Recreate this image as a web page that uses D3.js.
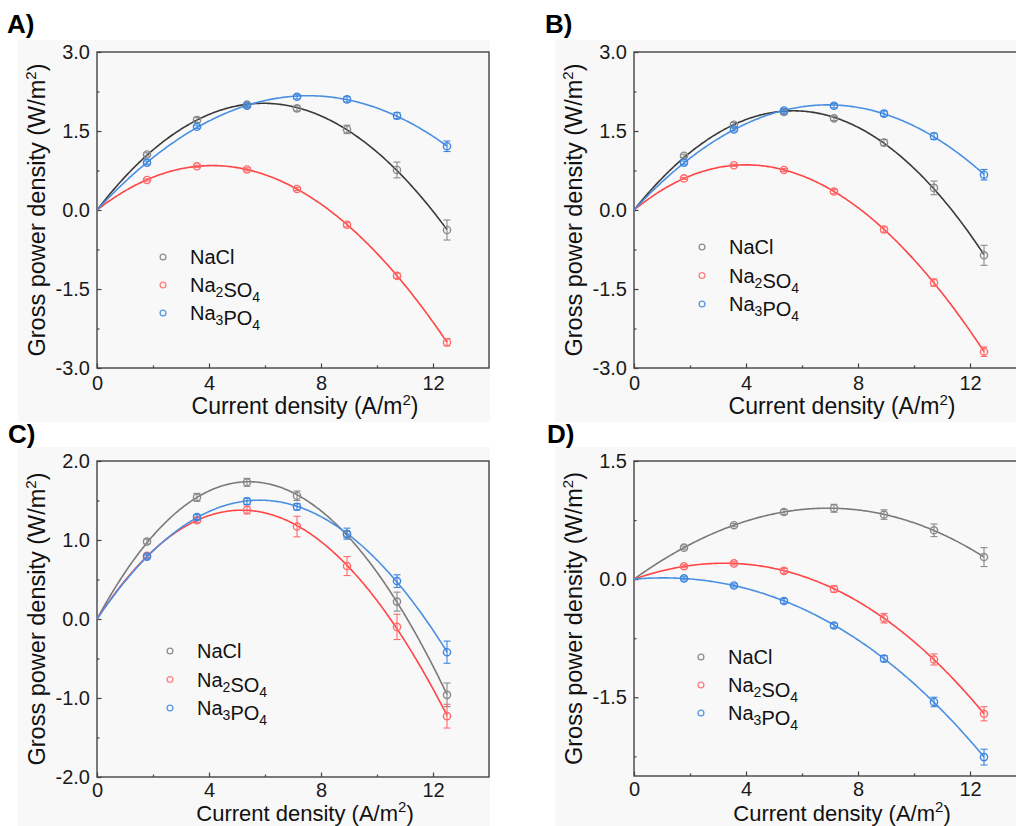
<!DOCTYPE html>
<html>
<head>
<meta charset="utf-8">
<script src="https://cdn.jsdelivr.net/npm/d3@7"></script>
<style>
  html, body { margin: 0; padding: 0; background: #ffffff; }
  svg { display: block; font-family: "Liberation Sans", Arial, sans-serif; }
</style>
</head>
<body>
<svg id="fig" width="1016" height="826"></svg>
<script>
// Current density at each measurement point (A/m2)
const currentDensity = [1.786, 3.571, 5.357, 7.143, 8.929, 10.714, 12.5];

// Gross power density (W/m2) and standard deviations, panel A
const naclA     = [1.055, 1.71, 2.00, 1.93, 1.53, 0.76, -0.38];
const naclAErr  = [0.03, 0.05, 0.03, 0.05, 0.08, 0.15, 0.19];
const na2so4A    = [0.57, 0.83, 0.77, 0.40, -0.28, -1.25, -2.51];
const na2so4AErr = [0.02, 0.02, 0.03, 0.03, 0.04, 0.05, 0.07];
const na3po4A    = [0.90, 1.58, 1.98, 2.15, 2.10, 1.79, 1.21];
const na3po4AErr = [0.03, 0.03, 0.03, 0.04, 0.05, 0.06, 0.10];

// Panel B
const naclB     = [1.03, 1.62, 1.86, 1.74, 1.28, 0.42, -0.86];
const naclBErr  = [0.03, 0.04, 0.04, 0.04, 0.06, 0.13, 0.19];
const na2so4B    = [0.60, 0.85, 0.76, 0.35, -0.37, -1.38, -2.69];
const na2so4BErr = [0.02, 0.02, 0.03, 0.04, 0.05, 0.07, 0.09];
const na3po4B    = [0.90, 1.53, 1.89, 1.98, 1.83, 1.40, 0.67];
const na3po4BErr = [0.03, 0.03, 0.03, 0.04, 0.05, 0.06, 0.10];

// Panel C
const naclC     = [0.98, 1.54, 1.73, 1.56, 1.07, 0.22, -0.96];
const naclCErr  = [0.03, 0.05, 0.05, 0.06, 0.04, 0.12, 0.15];
const na2so4C    = [0.80, 1.25, 1.38, 1.17, 0.67, -0.10, -1.23];
const na2so4CErr = [0.02, 0.03, 0.05, 0.13, 0.12, 0.16, 0.15];
const na3po4C    = [0.79, 1.29, 1.49, 1.42, 1.08, 0.48, -0.42];
const na3po4CErr = [0.02, 0.03, 0.04, 0.04, 0.07, 0.08, 0.14];

// Panel D
const naclD     = [0.40, 0.685, 0.853, 0.90, 0.82, 0.62, 0.28];
const naclDErr  = [0.02, 0.02, 0.03, 0.05, 0.06, 0.08, 0.12];
const na2so4D    = [0.164, 0.20, 0.105, -0.126, -0.496, -1.02, -1.71];
const na2so4DErr = [0.02, 0.02, 0.03, 0.04, 0.06, 0.07, 0.09];
const na3po4D    = [0.01, -0.08, -0.277, -0.588, -1.01, -1.56, -2.26];
const na3po4DErr = [0.02, 0.02, 0.03, 0.03, 0.04, 0.06, 0.10];

// Axis ticks
const xTicks = [0, 4, 8, 12];
const xMinorTicks = [2, 6, 10];
const yTicksAB = [-3, -1.5, 0, 1.5, 3];
const yMinorAB = [-2.25, -0.75, 0.75, 2.25];
const yTicksC = [-2, -1, 0, 1, 2];
const yMinorC = [-1.5, -0.5, 0.5, 1.5];
const yTicksD = [-1.5, 0, 1.5];
const yMinorD = [-2.25, -0.75, 0.75];

const saltNames = ["NaCl", "Na2SO4", "Na3PO4"];

const svg = d3.select("#fig");
const locale = d3.formatLocale({ decimal: ".", thousands: ",", grouping: [3], currency: ["", ""], minus: "-" });
const fmtY = locale.format(".1f");

// Least-squares cubic through the origin: P = a*i + b*i^2 + c*i^3
function fitCubicOrigin(xs, ys) {
  const S = (p) => d3.sum(xs, (x) => Math.pow(x, p));
  const T = (p) => d3.sum(xs, (x, i) => Math.pow(x, p) * ys[i]);
  const A = [[S(2), S(3), S(4)], [S(3), S(4), S(5)], [S(4), S(5), S(6)]];
  const b = [T(1), T(2), T(3)];
  const n = 3;
  const M = A.map((row, i) => row.concat([b[i]]));
  for (let k = 0; k < n; k++) {
    let p = k;
    for (let r = k + 1; r < n; r++) if (Math.abs(M[r][k]) > Math.abs(M[p][k])) p = r;
    [M[k], M[p]] = [M[p], M[k]];
    for (let r = k + 1; r < n; r++) {
      const f = M[r][k] / M[k][k];
      for (let c = k; c <= n; c++) M[r][c] -= f * M[k][c];
    }
  }
  const coef = [0, 0, 0];
  for (let r = n - 1; r >= 0; r--) {
    let s = M[r][n];
    for (let c = r + 1; c < n; c++) s -= M[r][c] * coef[c];
    coef[r] = s / M[r][r];
  }
  return (x) => coef[0] * x + coef[1] * x * x + coef[2] * x * x * x;
}

function addSaltLabel(sel, name) {
  // Writes a formula with subscripted digits
  const parts = name.match(/[A-Za-z]+|\d+/g);
  parts.forEach((p) => {
    if (/\d/.test(p)) {
      sel.append("tspan").attr("font-size", 14).attr("dy", 5).text(p);
      sel.append("tspan").attr("dy", -5).text("");
    } else {
      sel.append("tspan").text(p);
    }
  });
}

const panels = [
  { tag: "A)", tagX: 7, tagY: 33, left: 97, top: 52, height: 316, bg: [18, 40, 472, 382],
    titleY: 414, titleSize: 23, xPad: 8,
    yDomain: [-3, 3], yTicks: yTicksAB, yMinor: yMinorAB,
    series: [naclA, na2so4A, na3po4A], errs: [naclAErr, na2so4AErr, na3po4AErr],
    naclLine: "#3a3a3a", legend: [163, 257, 28] },
  { tag: "B)", tagX: 545, tagY: 33, left: 634, top: 52, height: 316, bg: [555, 40, 461, 382],
    titleY: 414, titleSize: 23, xPad: 8,
    yDomain: [-3, 3], yTicks: yTicksAB, yMinor: yMinorAB,
    series: [naclB, na2so4B, na3po4B], errs: [naclBErr, na2so4BErr, na3po4BErr],
    naclLine: "#3a3a3a", legend: [702, 247, 28.5] },
  { tag: "C)", tagX: 8, tagY: 443, left: 97, top: 461, height: 316, bg: [18, 447, 472, 379],
    titleY: 821, titleSize: 22, xPad: 5.5,
    yDomain: [-2, 2], yTicks: yTicksC, yMinor: yMinorC,
    series: [naclC, na2so4C, na3po4C], errs: [naclCErr, na2so4CErr, na3po4CErr],
    naclLine: "#7a7a7a", legend: [170, 651, 28.5] },
  { tag: "D)", tagX: 547, tagY: 443, left: 634, top: 461, height: 315, bg: [555, 447, 461, 379],
    titleY: 821, titleSize: 22, xPad: 6,
    yDomain: [-2.5, 1.5], yTicks: yTicksD, yMinor: yMinorD,
    series: [naclD, na2so4D, na3po4D], errs: [naclDErr, na2so4DErr, na3po4DErr],
    naclLine: "#7a7a7a", legend: [701, 657, 28] }
];

const markerColors = ["#8a8a8a", "#ff6b6b", "#3d86e0"];
const lineColors = [null, "#ff4545", "#4a90e2"];
const legendColors = ["#8f8f8f", "#ff8080", "#5a98e6"];
const plotWidth = 392;

panels.forEach((P) => {
  svg.append("rect")
    .attr("x", P.bg[0]).attr("y", P.bg[1])
    .attr("width", P.bg[2]).attr("height", P.bg[3])
    .attr("fill", "#f8f8f8");

  svg.append("text")
    .attr("x", P.tagX).attr("y", P.tagY)
    .attr("font-size", 26).attr("font-weight", "bold").attr("fill", "#000")
    .text(P.tag);

  const x = d3.scaleLinear().domain([0, 14]).range([P.left, P.left + plotWidth]);
  const y = d3.scaleLinear().domain(P.yDomain).range([P.top + P.height, P.top]);
  const bottom = P.top + P.height;

  const g = svg.append("g");

  // Axes with inward ticks
  const xAxis = g.append("g").attr("transform", `translate(0,${bottom})`)
    .call(d3.axisBottom(x).tickValues(xTicks).tickSize(-4.5).tickSizeOuter(0).tickPadding(P.xPad).tickFormat(d3.format("d")));
  const xMinor = g.append("g").attr("transform", `translate(0,${bottom})`)
    .call(d3.axisBottom(x).tickValues(xMinorTicks).tickSize(-2.5).tickSizeOuter(0).tickFormat(""));
  const yAxis = g.append("g").attr("transform", `translate(${P.left},0)`)
    .call(d3.axisLeft(y).tickValues(P.yTicks).tickSize(-4.5).tickSizeOuter(0).tickPadding(7).tickFormat(fmtY));
  const yMinor = g.append("g").attr("transform", `translate(${P.left},0)`)
    .call(d3.axisLeft(y).tickValues(P.yMinor).tickSize(-2.5).tickSizeOuter(0).tickFormat(""));

  [xAxis, xMinor, yAxis, yMinor].forEach((a) => {
    a.select(".domain").remove();
    a.selectAll(".tick line").attr("stroke", "#444").attr("stroke-width", 1.2);
    a.selectAll(".tick text").attr("font-size", 20).attr("fill", "#1a1a1a")
      .attr("font-family", "'Liberation Sans', Arial, sans-serif");
  });

  // Frame
  g.append("rect")
    .attr("x", P.left).attr("y", P.top)
    .attr("width", plotWidth).attr("height", P.height)
    .attr("fill", "none").attr("stroke", "#444").attr("stroke-width", 1.4);

  // Axis titles
  const yt = g.append("text")
    .attr("transform", `translate(${P.left - 52},${P.top + P.height / 2}) rotate(-90)`)
    .attr("text-anchor", "middle").attr("font-size", 23.5).attr("fill", "#111");
  yt.append("tspan").text("Gross power density (W/m");
  yt.append("tspan").attr("font-size", 15).attr("dy", -9).text("2");
  yt.append("tspan").attr("dy", 9).text(")");

  const xt = g.append("text")
    .attr("x", P.left + 208).attr("y", P.titleY)
    .attr("text-anchor", "middle").attr("font-size", P.titleSize).attr("fill", "#111");
  xt.append("tspan").text("Current density (A/m");
  xt.append("tspan").attr("font-size", 15).attr("dy", -9).text("2");
  xt.append("tspan").attr("dy", 9).text(")");

  // Fitted curves
  const line = d3.line().x((d) => x(d[0])).y((d) => y(d[1]));
  const samples = d3.range(0, 12.5001, 0.05);
  P.series.forEach((vals, si) => {
    const f = fitCubicOrigin(currentDensity, vals);
    g.append("path")
      .datum(samples.map((c) => [c, f(c)]))
      .attr("d", line)
      .attr("fill", "none")
      .attr("stroke", si === 0 ? P.naclLine : lineColors[si])
      .attr("stroke-width", 1.6);
  });

  // Error bars and markers
  P.series.forEach((vals, si) => {
    const col = markerColors[si];
    const pts = currentDensity.map((c, i) => ({ c, v: vals[i], e: P.errs[si][i] }));
    const eb = g.append("g").attr("stroke", col).attr("stroke-width", 1.1).attr("fill", "none");
    pts.forEach((d) => {
      const cx = x(d.c), y1 = y(d.v + d.e), y2 = y(d.v - d.e);
      eb.append("line").attr("x1", cx).attr("x2", cx).attr("y1", y1).attr("y2", y2);
      eb.append("line").attr("x1", cx - 3.5).attr("x2", cx + 3.5).attr("y1", y1).attr("y2", y1);
      eb.append("line").attr("x1", cx - 3.5).attr("x2", cx + 3.5).attr("y1", y2).attr("y2", y2);
    });
    g.append("g").selectAll("circle").data(pts).join("circle")
      .attr("cx", (d) => x(d.c)).attr("cy", (d) => y(d.v)).attr("r", 3.6)
      .attr("fill", "none").attr("stroke", col).attr("stroke-width", 1.4);
  });

  // Legend
  const [lx, ly, step] = P.legend;
  saltNames.forEach((name, i) => {
    g.append("circle")
      .attr("cx", lx).attr("cy", ly + i * step).attr("r", 2.9)
      .attr("fill", "none").attr("stroke", legendColors[i]).attr("stroke-width", 1.3);
    const t = g.append("text")
      .attr("x", lx + 27).attr("y", ly + i * step + 7)
      .attr("font-size", 20).attr("fill", "#111");
    addSaltLabel(t, name);
  });
});
</script>
</body>
</html>
